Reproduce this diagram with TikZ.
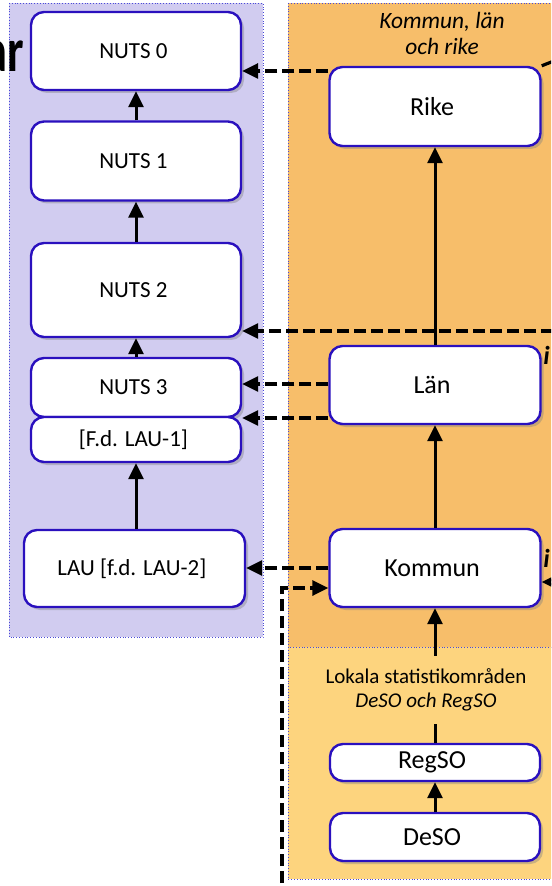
\documentclass[tikz,border=0pt]{standalone}
\usepackage{fontspec}
\setmainfont{Carlito}
\usepackage{tikz}
\usetikzlibrary{positioning,shadows,arrows.meta}

\definecolor{nutsbg}{HTML}{D1CCF0}
\definecolor{rikebg}{HTML}{F7BE6A}
\definecolor{desobg}{HTML}{FDD47E}
\definecolor{boxline}{HTML}{2A10BE}
\definecolor{panelline}{HTML}{4A4AD8}

\begin{document}
\begin{tikzpicture}[x=0.5pt,y=-0.5pt,
    level/.style={draw=boxline, line width=1.2pt, fill=white, rounded corners=6.5pt,
        align=center, inner sep=0pt,
        drop shadow={opacity=0.4, shadow xshift=1.5pt, shadow yshift=-1.5pt}},
    nuts/.style={level, minimum width=105pt, font=\fontsize{11.5}{13}\selectfont},
    scb/.style={level, minimum width=105.5pt, font=\fontsize{13}{15}\selectfont},
    up/.style={line width=1.5pt, -{Triangle[length=8pt,width=7.5pt]}},
    link/.style={line width=1.6pt, dash pattern=on 6pt off 2.5pt,
        -{Triangle[length=8pt,width=7.5pt]}},
    panel/.style={draw=panelline, densely dotted, line width=0.4pt}
]

\useasboundingbox (0,0) rectangle (551,886);
\clip (0,0) rectangle (551,886);
\fill[white] (0,0) rectangle (551,886);

\draw[panel, fill=nutsbg] (9,3) rectangle (263,637);
\draw[panel, fill=rikebg] (288,3) rectangle (570,647);
\draw[panel, fill=desobg] (288,647) rectangle (570,879);

\node[anchor=base east,
    font=\bfseries\fontsize{31}{31}\selectfont,
    xscale=0.75, transform shape
] (title) at (29,72) { ar };

\node[nuts,
    minimum height=39pt
] (nuts0) at (136,51) { NUTS 0 };

\node[nuts,
    minimum height=39.5pt
] (nuts1) at (136,161) { NUTS 1 };

\node[nuts,
    minimum height=47pt
] (nuts2) at (136,290) { NUTS 2 };

\node[nuts,
    minimum height=29.5pt
] (nuts3) at (136,387.5) { NUTS 3 };

\node[nuts,
    below=-1.2pt of nuts3,
    minimum height=22.5pt
] (lau1) { [F.d. LAU-1] };

\node[nuts,
    minimum width=110.5pt,
    minimum height=38.5pt
] (lau) at (134.5,568.5) { LAU [f.d. LAU-2] };

\node[font=\itshape\fontsize{11.7}{13}\selectfont,
    align=center
] (rikelabel) at (442,33) { Kommun, län\\och rike };

\node[scb,
    minimum height=39.5pt
] (rike) at (435,106.5) { Rike };

\node[scb,
    minimum height=39pt
] (lan) at (435,385) { Län };

\node[scb,
    minimum height=39pt
] (kommun) at (435,568) { Kommun };

\node[scb,
    minimum width=105pt,
    minimum height=18.5pt
] (regso) at (435,762.5) { RegSO };

\node[scb,
    minimum width=105pt,
    minimum height=24pt
] (deso) at (435,837) { DeSO };

\node[anchor=base west,
    inner sep=0pt,
    font=\bfseries\itshape\fontsize{13}{15}\selectfont
] (lannote) at (543,365) { i };

\node[anchor=base west,
    inner sep=0pt,
    font=\bfseries\itshape\fontsize{13}{15}\selectfont
] (kommunnote) at (543,567) { i };

\coordinate (nuts2src) at (570,331);
\coordinate (kommunsrc) at (575,582);
\coordinate (desosrc) at (282,900);
\coordinate (rikeout) at (600,43);

\draw[link] (rike.west |- 0,71) -- (nuts0.east |- 0,71);
\draw[link] (nuts2src) -- (nuts2.east |- nuts2src);
\draw[link] (lan.west |- 0,384) -- (nuts3.east |- 0,384);
\draw[link] (lan.west |- 0,418) -- (nuts3.east |- 0,418);
\draw[link] (kommun.west |- 0,568) -- (lau.east |- 0,568);
\draw[link] (desosrc) |- (kommun.west |- 0,588);
\draw[link] (kommunsrc) -- (kommun.east |- kommunsrc);
\draw[line width=1.6pt, dash pattern=on 7pt off 2.5pt] (rike.north east) -- (rikeout);

\draw[up] (nuts1) -- (nuts0);
\draw[up] (nuts2) -- (nuts1);
\draw[up] (nuts3) -- (nuts2);
\draw[up] (lau.north -| lau1) -- (lau1);

\draw[up] (lan) -- (rike);
\draw[up] (kommun) -- (lan);
\draw[up] (regso) -- (kommun);
\draw[up] (deso) -- (regso);

\node[fill=desobg,
    inner xsep=3pt,
    inner ysep=6.5pt,
    align=center,
    font=\fontsize{10.5}{12}\selectfont
] (lokallabel) at (426,690) { Lokala statistikområden\\\textit{DeSO och RegSO} };

\end{tikzpicture}
\end{document}
